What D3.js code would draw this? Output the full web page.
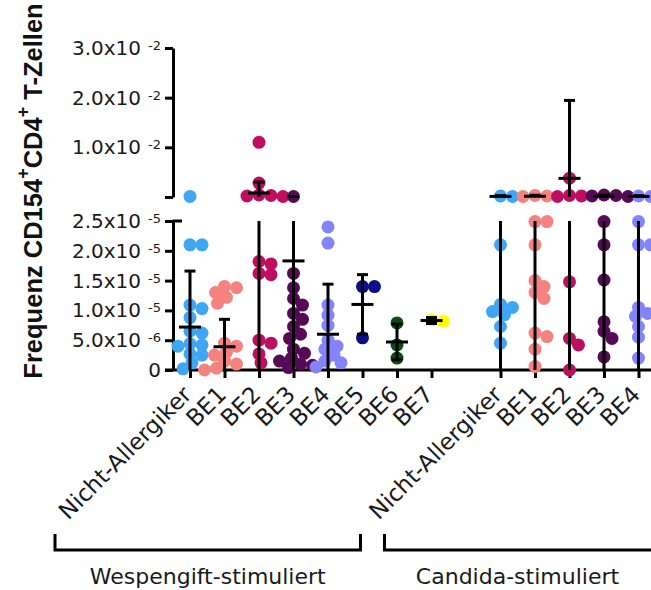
<!DOCTYPE html>
<html lang="de">
<head>
<meta charset="utf-8">
<title>Frequenz CD154+CD4+ T-Zellen</title>
<style>
  body { margin: 0; background: #fff; }
  text { font-family: "DejaVu Sans", sans-serif; fill: #1a1a1a; }
  .title { font-family: "Liberation Sans", Arial, sans-serif; font-weight: bold; font-size: 25.5px; fill: #111; }
  .axis path, .axis line { stroke: #000; stroke-width: 3; }
  .err { stroke: #000; stroke-width: 3; }
</style>
</head>
<body>
<svg width="651" height="590"></svg>
<script src="https://d3js.org/d3.v7.min.js"></script>
<script>
// categories
const wespeLabels = ["Nicht-Allergiker", "BE1", "BE2", "BE3", "BE4", "BE5", "BE6", "BE7"];
const candidaLabels = ["Nicht-Allergiker", "BE1", "BE2", "BE3", "BE4"];
const groupColors = ["#3EA6F3", "#F4827F", "#BE0E60", "#560A55", "#8383FA", "#0D0D85", "#0B4E13", "#FFFF00"];

// single values (frequency), Wespengift-stimuliert
const wespeNA  = [1.2e-4, 2.1e-5, 2.1e-5, 1.09e-5, 1.03e-5, 0.88e-5, 0.65e-5, 0.62e-5, 0.44e-5, 0.42e-5, 0.4e-5, 0.27e-5, 0.25e-5, 0.12e-5, 0.02e-5];
const wespeBE1 = [1.4e-5, 1.38e-5, 1.3e-5, 1.22e-5, 1.12e-5, 0.45e-5, 0.4e-5, 0.3e-5, 0.25e-5, 0.15e-5, 0.1e-5, 0.03e-5, 0];
const wespeBE2 = [0.011, 0.0028, 4e-4, 3e-4, 2e-4, 1e-4, 1.82e-5, 1.78e-5, 1.62e-5, 1.6e-5, 0.5e-5, 0.45e-5, 0.27e-5, 0.12e-5];
const wespeBE3 = [1e-4, 1.62e-5, 1.38e-5, 1.2e-5, 1.09e-5, 0.95e-5, 0.85e-5, 0.73e-5, 0.6e-5, 0.53e-5, 0.35e-5, 0.28e-5, 0.2e-5, 0.15e-5, 0.1e-5, 0.08e-5, 0.04e-5];
const wespeBE4 = [2.4e-5, 2.13e-5, 1.09e-5, 0.92e-5, 0.75e-5, 0.5e-5, 0.4e-5, 0.35e-5, 0.25e-5, 0.15e-5, 0.12e-5, 0.05e-5];
const wespeBE5 = [1.4e-5, 1.4e-5, 0.54e-5];
const wespeBE6 = [0.79e-5, 0.42e-5, 0.2e-5];
const wespeBE7 = [0.84e-5, 0.82e-5];

// single values, Candida-stimuliert
const candidaNA  = [2e-4, 1e-4, 2.1e-5, 1.1e-5, 1.05e-5, 0.98e-5, 0.93e-5, 0.73e-5, 0.45e-5];
const candidaBE1 = [3e-4, 2e-4, 1e-4, 2.49e-5, 2.49e-5, 2.1e-5, 1.5e-5, 1.4e-5, 1.3e-5, 1.2e-5, 0.62e-5, 0.56e-5, 0.35e-5, 0.06e-5];
const candidaBE2 = [3.8e-3, 3e-4, 2e-4, 1e-4, 1.48e-5, 0.53e-5, 0.42e-5, 0];
const candidaBE3 = [4e-4, 3e-4, 2e-4, 1e-4, 2.49e-5, 2.1e-5, 1.51e-5, 0.81e-5, 0.65e-5, 0.53e-5, 0.22e-5];
const candidaBE4 = [2e-4, 1e-4, 2.49e-5, 2.1e-5, 2.1e-5, 1.05e-5, 0.95e-5, 0.9e-5, 0.73e-5, 0.55e-5, 0.2e-5];

// mean and SD as drawn
const wespeMean = [7.2e-6, 3.9e-6, 8e-4, 1.83e-5, 6.0e-6, 1.1e-5, 4.7e-6, 8.3e-6];
const wespeSD   = [9.4e-6, 4.6e-6, 2.2e-3, 8e-5, 8.4e-6, 5e-6, 3e-6, 5e-7];
const candidaMean = [1.2e-4, 1.5e-4, 3.75e-3, 1.5e-4, 1.2e-4];
const candidaSD   = [1.5e-4, 2e-4, 1.57e-2, 2e-4, 1.5e-4];

// y ticks (broken axis)
const lowTicks = [0, 5e-6, 1e-5, 1.5e-5, 2e-5, 2.5e-5];
const lowTickLabels = [["0", ""], ["5.0x10", "-6"], ["1.0x10", "-5"], ["1.5x10", "-5"], ["2.0x10", "-5"], ["2.5x10", "-5"]];
const highTicks = [0, 1e-2, 2e-2, 3e-2];
const highTickLabels = [["", ""], ["1.0x10", "-2"], ["2.0x10", "-2"], ["3.0x10", "-2"]];

const width = 651, height = 590;
const svg = d3.select("svg");
svg.append("rect").attr("width", width).attr("height", height).attr("fill", "#fff");

const axisX = 173, baseY = 370;
const lowMax = 2.5e-5;
const yLow = d3.scaleLinear().domain([0, lowMax]).range([baseY, 221]);
const yHigh = d3.scaleLinear().domain([0, 0.03]).range([197, 48]);
const yOf = v => v <= lowMax ? yLow(v) : yHigh(v);

const wKeys = wespeLabels.map(d => "W|" + d);
const cKeys = candidaLabels.map(d => "C|" + d);
const x = d3.scalePoint().domain([...wKeys, "gap", ...cKeys]).range([190, 638.5]);

const groups = [
  ...[wespeNA, wespeBE1, wespeBE2, wespeBE3, wespeBE4, wespeBE5, wespeBE6, wespeBE7].map((vals, i) => ({
    key: wKeys[i], label: wespeLabels[i], vals, color: groupColors[i], mean: wespeMean[i], sd: wespeSD[i] })),
  ...[candidaNA, candidaBE1, candidaBE2, candidaBE3, candidaBE4].map((vals, i) => ({
    key: cKeys[i], label: candidaLabels[i], vals, color: groupColors[i], mean: candidaMean[i], sd: candidaSD[i] }))
];

// Prism-like scatter spread: side by side in a row, overlapping between rows
function swarm(vals, cx) {
  const rx = 12, ry = 9, placed = [];
  vals.map(v => ({ v, y: yOf(v) })).sort((a, b) => a.y - b.y).forEach(p => {
    for (let k = 0; k < 60; k++) {
      const offs = k === 0 ? [0] : [k, -k];
      const ok = offs.find(o => placed.every(q => Math.hypot((q.x - cx - o) / rx, (q.y - p.y) / ry) >= 1));
      if (ok !== undefined) { placed.push({ x: cx + ok, y: p.y }); break; }
    }
  });
  return placed;
}

// axes
const gLow = svg.append("g").attr("class", "axis").attr("transform", `translate(${axisX},0)`)
  .call(d3.axisLeft(yLow).tickValues(lowTicks).tickSize(8).tickSizeOuter(0).tickFormat(""));
const gHigh = svg.append("g").attr("class", "axis").attr("transform", `translate(${axisX},0)`)
  .call(d3.axisLeft(yHigh).tickValues(highTicks).tickSize(8).tickSizeOuter(0).tickFormat(""));
svg.append("line").attr("class", "err")
  .attr("x1", axisX).attr("x2", axisX + 9).attr("y1", yLow(lowMax)).attr("y2", yLow(lowMax));

function tickText(g, ticks, labels, scale) {
  ticks.forEach((t, i) => {
    const txt = g.append("text").attr("x", -12).attr("y", scale(t) + 7)
      .attr("text-anchor", "end").attr("font-size", 20);
    txt.append("tspan").text(labels[i][0]);
    if (labels[i][1]) txt.append("tspan").attr("dx", 7).attr("dy", -5).attr("font-size", 13).text(labels[i][1]);
  });
}
tickText(gLow, lowTicks, lowTickLabels, yLow);
tickText(gHigh, highTicks, highTickLabels, yHigh);

const gx = svg.append("g").attr("class", "axis").attr("transform", `translate(0,${baseY})`)
  .call(d3.axisBottom(x).tickValues([...wKeys, ...cKeys]).tickSize(8).tickSizeOuter(0).tickFormat(""));
gx.select(".domain").remove();
svg.append("line").attr("class", "err")
  .attr("x1", axisX - 8).attr("x2", width).attr("y1", baseY).attr("y2", baseY);

// points
groups.forEach(g => {
  svg.append("g").selectAll("circle").data(swarm(g.vals, x(g.key))).join("circle")
    .attr("cx", d => d.x).attr("cy", d => d.y).attr("r", 6.5).attr("fill", g.color);
});

// mean +/- SD, split across the axis break
groups.forEach(g => {
  const cx = x(g.key), lo = g.mean - g.sd, hi = g.mean + g.sd;
  const bar = svg.append("g").attr("class", "err");
  const seg = (a, b) => bar.append("line").attr("x1", cx).attr("x2", cx).attr("y1", a).attr("y2", b);
  const cap = (y, w) => bar.append("line").attr("x1", cx - w).attr("x2", cx + w).attr("y1", y).attr("y2", y);
  const la = Math.max(lo, 0), lb = Math.min(hi, lowMax);
  if (la < lb) seg(yLow(la), yLow(lb));
  const ua = Math.max(lo, lowMax), ub = Math.min(hi, 0.03);
  if (ua < ub) seg(yHigh(ua), yHigh(ub));
  if (hi <= 0.03) cap(yOf(hi), 5.5);
  if (lo >= 0) cap(yOf(lo), 5.5);
  cap(yOf(g.mean), 11);
});

// category labels
groups.forEach(g => {
  svg.append("text").attr("transform", `translate(${x(g.key) + 3},396) rotate(-45)`)
    .attr("text-anchor", "end").attr("font-size", 23).text(g.label);
});

// group brackets
const wL = x(wKeys[0]) - 135, wR = x(wKeys[5]) - 2, cL = x(cKeys[0]) - 116;
svg.append("path").attr("class", "err").attr("fill", "none")
  .attr("d", `M${wL},534V550H${wR}V534`);
svg.append("path").attr("class", "err").attr("fill", "none")
  .attr("d", `M${cL},534V550H${width + 10}`);
svg.append("text").attr("x", (wL + wR) / 2).attr("y", 584).attr("text-anchor", "middle")
  .attr("font-size", 22).text("Wespengift-stimuliert");
svg.append("text").attr("x", x(cKeys[0]) + 17).attr("y", 584).attr("text-anchor", "middle")
  .attr("font-size", 22).text("Candida-stimuliert");

// y title
const title = svg.append("text").attr("class", "title")
  .attr("transform", "translate(42,191) rotate(-90)").attr("text-anchor", "middle");
title.append("tspan").text("Frequenz CD154");
title.append("tspan").attr("dy", -13).attr("font-size", 18).text("+");
title.append("tspan").attr("dy", 13).text("CD4");
title.append("tspan").attr("dy", -13).attr("font-size", 18).text("+");
title.append("tspan").attr("dy", 13).text(" T-Zellen");
</script>
</body>
</html>
